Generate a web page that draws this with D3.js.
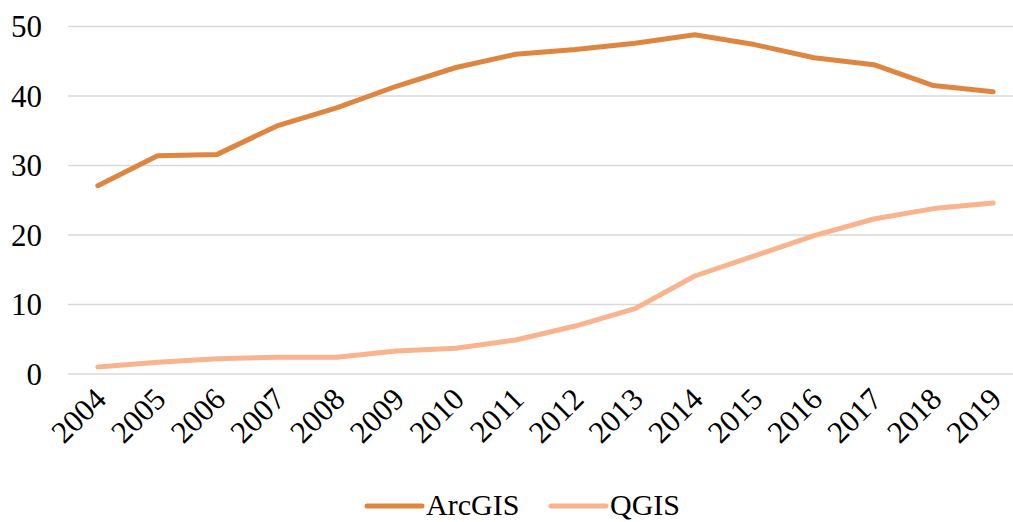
<!DOCTYPE html>
<html>
<head>
<meta charset="utf-8">
<script src="https://cdn.jsdelivr.net/npm/d3@7/dist/d3.min.js"></script>
<style>
  body { margin: 0; background: #fff; }
  text { font-family: "Liberation Serif", "Times New Roman", serif; fill: #000; }
</style>
</head>
<body>
<script>
var years = ["2004","2005","2006","2007","2008","2009","2010","2011","2012","2013","2014","2015","2016","2017","2018","2019"];
var arcgis = [27.1, 31.4, 31.6, 35.7, 38.3, 41.4, 44.1, 46.0, 46.7, 47.6, 48.8, 47.4, 45.5, 44.5, 41.5, 40.6];
var qgis = [1.0, 1.7, 2.2, 2.4, 2.4, 3.3, 3.7, 4.9, 6.9, 9.4, 14.1, 17.0, 19.9, 22.3, 23.8, 24.6];
var yTicks = [0, 10, 20, 30, 40, 50];

var series = [
  {name: "ArcGIS", values: arcgis, color: "#DE8640"},
  {name: "QGIS", values: qgis, color: "#F9B48D"}
];

var width = 1013, height = 522;

var svg = d3.select("body").append("svg")
  .attr("width", width)
  .attr("height", height);

var x = d3.scalePoint()
  .domain(years)
  .range([68, 1023])
  .padding(0.5);

var y = d3.scaleLinear()
  .domain([0, 50])
  .range([374, 26.5]);

// gridlines
svg.append("g")
  .selectAll("line")
  .data(yTicks)
  .enter()
  .append("line")
  .attr("x1", 68)
  .attr("x2", width)
  .attr("y1", function(d){ return y(d); })
  .attr("y2", function(d){ return y(d); })
  .attr("stroke", "#d9d9d9")
  .attr("stroke-width", 1.5);

// y labels
svg.append("g")
  .selectAll("text")
  .data(yTicks)
  .enter()
  .append("text")
  .attr("x", 42)
  .attr("y", function(d){ return y(d); })
  .attr("dy", "0.35em")
  .attr("text-anchor", "end")
  .style("font-size", "31px")
  .text(function(d){ return d; });

// x labels
svg.append("g")
  .selectAll("text")
  .data(years)
  .enter()
  .append("text")
  .attr("transform", function(d){ return "translate(" + (x(d) + 10) + ",401) rotate(-45)"; })
  .attr("text-anchor", "end")
  .style("font-size", "31px")
  .text(function(d){ return d; });

// lines
var line = d3.line()
  .x(function(d, i){ return x(years[i]); })
  .y(function(d){ return y(d); });

svg.append("g")
  .selectAll("path")
  .data(series)
  .enter()
  .append("path")
  .attr("d", function(d){ return line(d.values); })
  .attr("fill", "none")
  .attr("stroke", function(d){ return d.color; })
  .attr("stroke-width", 5)
  .attr("stroke-linecap", "round")
  .attr("stroke-linejoin", "round");

// legend
var legendX = [367, 551];
var legend = svg.append("g")
  .selectAll("g")
  .data(series)
  .enter()
  .append("g")
  .attr("transform", function(d, i){ return "translate(" + legendX[i] + ",506)"; });

legend.append("line")
  .attr("x1", 0)
  .attr("x2", 55)
  .attr("stroke", function(d){ return d.color; })
  .attr("stroke-width", 5)
  .attr("stroke-linecap", "round");

legend.append("text")
  .attr("x", 59)
  .attr("y", 9)
  .style("font-size", "30px")
  .text(function(d){ return d.name; });
</script>
</body>
</html>
